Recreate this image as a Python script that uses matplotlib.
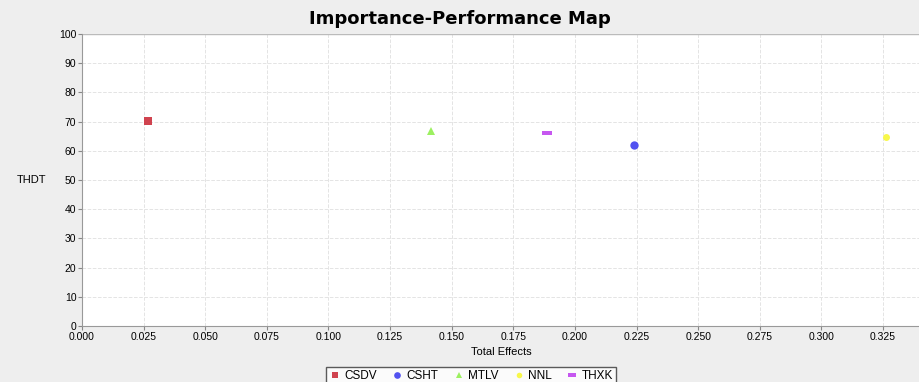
import matplotlib
matplotlib.use("Agg")
import matplotlib.pyplot as plt

# Data
names = ['CSDV', 'CSHT', 'MTLV', 'NNL', 'THXK']
effects = [0.0268, 0.224, 0.1416, 0.3263, 0.1887]
perf = [70.2, 62.0, 66.8, 64.7, 66.1]

colors = ['#d0434f', '#5252f0', '#9cf060', '#f8f84a', '#c657f0']
rect = [(-1, -0.5), (1, -0.5), (1, 0.5), (-1, 0.5), (-1, -0.5)]
markers = ['s', 'o', '^', 'o', rect]
sizes = [6, 6, 6, 5, 7]

plt.rcParams['font.family'] = ['Liberation Sans', 'DejaVu Sans']

fig = plt.figure(figsize=(9.2, 3.82), dpi=100, facecolor='#eeeeee')
ax = fig.add_axes([0.0891, 0.1466, 0.9109, 0.7644])
ax.set_facecolor('white')

for n, x, y, c, m, s in zip(names, effects, perf, colors, markers, sizes):
    ax.plot([x], [y], linestyle='none', marker=m, markersize=s, color=c,
            markeredgewidth=0, label=n)

ax.set_xlim(0, 0.34)
ax.set_ylim(0, 100)
ax.set_xticks([i * 0.025 for i in range(14)])
ax.set_xticklabels(['%.3f' % (i * 0.025) for i in range(14)])
ax.set_yticks(range(0, 101, 10))
ax.tick_params(labelsize=7.5, length=3, color='#888888', pad=1)
ax.grid(True, color='#e4e4e4', linestyle='--', linewidth=0.7)
for side in ['top', 'right']:
    ax.spines[side].set_visible(False)
for side in ['left', 'bottom']:
    ax.spines[side].set_color('#999999')
ax.axhline(100, color='#bbbbbb', linewidth=1)

ax.set_xlabel('Total Effects', fontsize=8, labelpad=4)
ax.set_ylabel('THDT', fontsize=8, rotation=0, labelpad=20, va='center')
fig.text(0.5, 0.95, 'Importance-Performance Map', ha='center', va='center',
         fontsize=13, fontweight='bold', family='DejaVu Sans')

leg = fig.legend(loc='upper center', bbox_to_anchor=(0.512, 0.056),
                 ncol=5, fontsize=8.5, frameon=True, fancybox=False,
                 handletextpad=0.3, columnspacing=1.2, handlelength=1.0,
                 borderpad=0.3, markerscale=0.8)
leg.get_frame().set_edgecolor('#333333')
leg.get_frame().set_linewidth(1)

fig.savefig('out.png', dpi=100, facecolor=fig.get_facecolor())
